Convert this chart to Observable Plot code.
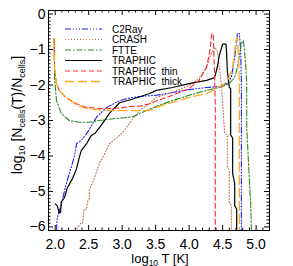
<!DOCTYPE html>
<html><head><meta charset="utf-8">
<script src="https://cdn.jsdelivr.net/npm/d3@7"></script>
<script src="https://cdn.jsdelivr.net/npm/@observablehq/plot@0.6"></script>
<style>
body{margin:0;background:#fff}
svg{display:block}
</style>
</head><body><div id="chart"></div>
<script>
// ---- data (log10 T, log10 Ncells(T)/Ncells) ----
const seriesNames = ["C2Ray", "CRASH", "FTTE", "TRAPHIC", "TRAPHIC  thin", "TRAPHIC  thick"];

const c2rayT    = [2.02,2.03,2.09,2.14,2.18,2.24,2.29,2.32,2.39,2.48,2.62,2.77,2.96,3.15,3.35,3.51,3.75,4.00,4.26,4.45,4.56,4.63,4.68,4.72,4.75,4.77,4.78,4.78];
const c2rayLogN = [-6.1,-5.73,-5.39,-4.97,-4.69,-4.32,-3.98,-3.65,-3.56,-3.34,-2.9,-2.63,-2.44,-2.35,-2.31,-2.29,-2.21,-2.13,-2.07,-2.04,-1.96,-1.79,-1.22,-0.55,-0.55,-1.03,-1.96,-6.1];

const crashT    = [2.32,2.38,2.41,2.43,2.47,2.48,2.51,2.51,2.59,2.66,2.74,2.81,2.93,3.03,3.11,3.26,3.41,3.51,3.75,4.00,4.15,4.26,4.33,4.38,4.42,4.45,4.48,4.50,4.53,4.57,4.57,4.60,4.60,4.63,4.63];
const crashLogN = [-6.05,-5.9,-5.9,-5.5,-5.5,-5.3,-5.2,-4.97,-4.6,-4.2,-3.93,-3.65,-3.48,-3.28,-3.08,-2.72,-2.52,-2.35,-2.21,-2.01,-1.82,-1.5,-1.11,-0.94,-1.03,-1.5,-1.96,-2.5,-3.36,-3.4,-4.3,-4.4,-5.3,-5.4,-6.1];

const ftteT    = [1.99,1.99,2.02,2.09,2.21,2.36,2.51,2.66,2.92,3.15,3.26,3.51,3.75,4.00,4.26,4.45,4.60,4.68,4.72,4.78,4.81,4.84,4.86,4.86,4.90,4.92,4.93];
const ftteLogN = [-0.7,-1.8,-2.44,-2.8,-3.0,-3.05,-3.05,-3.0,-2.94,-2.9,-2.8,-2.6,-2.44,-2.29,-2.15,-2.07,-1.96,-1.79,-1.5,-0.83,-0.75,-1.3,-1.96,-3.2,-4.7,-5.4,-6.1];

const traphicT    = [2.00,2.03,2.06,2.08,2.09,2.14,2.18,2.26,2.32,2.36,2.39,2.47,2.54,2.60,2.70,2.81,2.96,3.15,3.41,3.51,3.75,4.00,4.26,4.38,4.42,4.45,4.50,4.55,4.56,4.57,4.60,4.62,4.62,4.65,4.65,4.68,4.68,4.71,4.71];
const traphicLogN = [-5.35,-5.4,-5.6,-5.6,-5.3,-5.17,-4.9,-4.63,-4.35,-4.04,-3.84,-3.65,-3.42,-3.35,-3.1,-2.8,-2.5,-2.4,-2.24,-2.15,-2.07,-1.96,-1.87,-1.79,-1.5,-1.17,-0.85,-0.85,-1.11,-1.59,-2.07,-2.1,-3.4,-3.5,-4.5,-4.77,-5.4,-5.5,-6.1];

const thinT    = [1.98,1.99,2.02,2.06,2.16,2.31,2.46,2.66,2.90,3.15,3.26,3.41,3.51,3.75,4.00,4.15,4.26,4.31,4.34,4.36,4.37,4.39,4.39];
const thinLogN = [-0.7,-1.5,-1.96,-2.15,-2.35,-2.52,-2.63,-2.66,-2.66,-2.6,-2.6,-2.53,-2.45,-2.29,-2.1,-1.87,-1.5,-1.03,-0.55,-0.55,-1.1,-2.5,-6.1];

const thickT    = [1.98,1.99,2.02,2.06,2.16,2.31,2.46,2.66,2.90,3.15,3.41,3.51,3.75,4.00,4.26,4.41,4.53,4.60,4.65,4.68,4.71,4.72,4.74,4.75,4.75];
const thickLogN = [-0.7,-1.5,-1.96,-2.15,-2.35,-2.55,-2.66,-2.7,-2.72,-2.72,-2.72,-2.63,-2.49,-2.35,-2.24,-2.1,-1.96,-1.79,-1.5,-1.03,-0.66,-0.66,-1.3,-2.0,-6.1];

const xTickLabels = [2.0, 2.5, 3.0, 3.5, 4.0, 4.5, 5.0];
const yTickLabels = [0, -1, -2, -3, -4, -5, -6];

// ---- styles ----
const seriesT = [c2rayT, crashT, ftteT, traphicT, thinT, thickT];
const seriesV = [c2rayLogN, crashLogN, ftteLogN, traphicLogN, thinLogN, thickLogN];
const colors = ["#1a1aff", "#c0735a", "#2a8a2a", "#000000", "#ff2a2a", "#ffaa22"];
const dashes = ["6,2,1,2,1,2,1,2", "1,2", "6,2,1.5,2", null, "5,3", "9,4"];
const widths = [1.1, 1.1, 1.1, 1.2, 1.1, 1.3];

const xDomain = [1.9, 5.2];
const yDomain = [-6.1, 0.1];
const W = 293, H = 266;
const mL = 48, mR = 24, mT = 10, mB = 36;
const pxPerX = (W - mL - mR) / (xDomain[1] - xDomain[0]);
const pxPerY = (H - mT - mB) / (yDomain[1] - yDomain[0]);

const xMinor = d3.range(19, 53).map(i => i / 10);
const yMinor = d3.range(-61, 2).map(i => i / 10);
const isMajor = v => Math.abs(v * 2 - Math.round(v * 2)) < 1e-6;
const isMajorY = v => Math.abs(v - Math.round(v)) < 1e-6;

const lenY = v => (isMajor(v) ? 5 : 2.5) / pxPerY;   // tick length along y in data units
const lenX = v => (isMajorY(v) ? 5 : 2.5) / pxPerX;  // tick length along x in data units

const lineMarks = seriesT.map((ts, i) =>
  Plot.line(ts.map((t, j) => ({T: t, v: seriesV[i][j]})), {
    x: "T", y: "v", stroke: colors[i], strokeWidth: widths[i],
    strokeDasharray: dashes[i] || undefined, clip: true
  })
);

const chart = Plot.plot({
  width: W, height: H,
  marginLeft: mL, marginRight: mR, marginTop: mT, marginBottom: mB,
  style: {fontFamily: "'Liberation Sans', Arial, sans-serif", background: "#fff", color: "#000"},
  x: {domain: xDomain},
  y: {domain: yDomain},
  marks: [
    ...lineMarks,
    Plot.frame({stroke: "#000", strokeWidth: 1}),
    // inward ticks on all four sides
    Plot.ruleX(xMinor, {x: d => d, y1: yDomain[0], y2: d => yDomain[0] + lenY(d), stroke: "#000"}),
    Plot.ruleX(xMinor, {x: d => d, y1: yDomain[1], y2: d => yDomain[1] - lenY(d), stroke: "#000"}),
    Plot.ruleY(yMinor, {y: d => d, x1: xDomain[0], x2: d => xDomain[0] + lenX(d), stroke: "#000"}),
    Plot.ruleY(yMinor, {y: d => d, x1: xDomain[1], x2: d => xDomain[1] - lenX(d), stroke: "#000"}),
    Plot.axisX(xTickLabels, {tickSize: 0, tickPadding: 9, fontSize: 14, label: null, tickFormat: d => d.toFixed(1)}),
    Plot.axisY(yTickLabels, {tickSize: 0, tickPadding: 3, fontSize: 14, label: null,
      tickFormat: d => d === 0 ? "0" : "\u2212" + Math.abs(d)})
  ]
});

document.getElementById("chart").appendChild(chart);

// ---- legend and axis titles ----
const svg = d3.select(chart);
const leg = svg.append("g").attr("font-family", "'Liberation Sans', Arial, sans-serif")
  .attr("font-size", 10).attr("text-anchor", "start");
seriesNames.forEach((name, i) => {
  const y = 29 + i * 10.5;
  leg.append("line").attr("x1", 65).attr("x2", 102).attr("y1", y).attr("y2", y)
    .attr("stroke", colors[i]).attr("stroke-width", widths[i])
    .attr("stroke-dasharray", dashes[i] || null);
  leg.append("text").attr("x", 112).attr("y", y).attr("dy", "0.35em")
    .attr("text-anchor", "start").style("white-space", "pre").attr("fill", "#000").text(name);
});

const xl = svg.append("text").attr("x", 160).attr("y", 263).attr("text-anchor", "middle")
  .attr("font-family", "'Liberation Sans', Arial, sans-serif").attr("font-size", 13).attr("fill", "#000");
xl.append("tspan").text("log");
xl.append("tspan").attr("font-size", 8.5).attr("dy", 2.5).text("10");
xl.append("tspan").attr("dy", -2.5).text(" T [K]");

const yl = svg.append("text").attr("transform", "translate(22,115) rotate(-90)").attr("text-anchor", "middle")
  .attr("font-family", "'Liberation Sans', Arial, sans-serif").attr("font-size", 14).attr("fill", "#000");
yl.append("tspan").text("log");
yl.append("tspan").attr("font-size", 9).attr("dy", 3).text("10");
yl.append("tspan").attr("dy", -3).text(" [N");
yl.append("tspan").attr("font-size", 9).attr("dy", 3).text("cells");
yl.append("tspan").attr("dy", -3).text("(T)/N");
yl.append("tspan").attr("font-size", 9).attr("dy", 3).text("cells");
yl.append("tspan").attr("dy", -3).text("]");
</script>
</body></html>
